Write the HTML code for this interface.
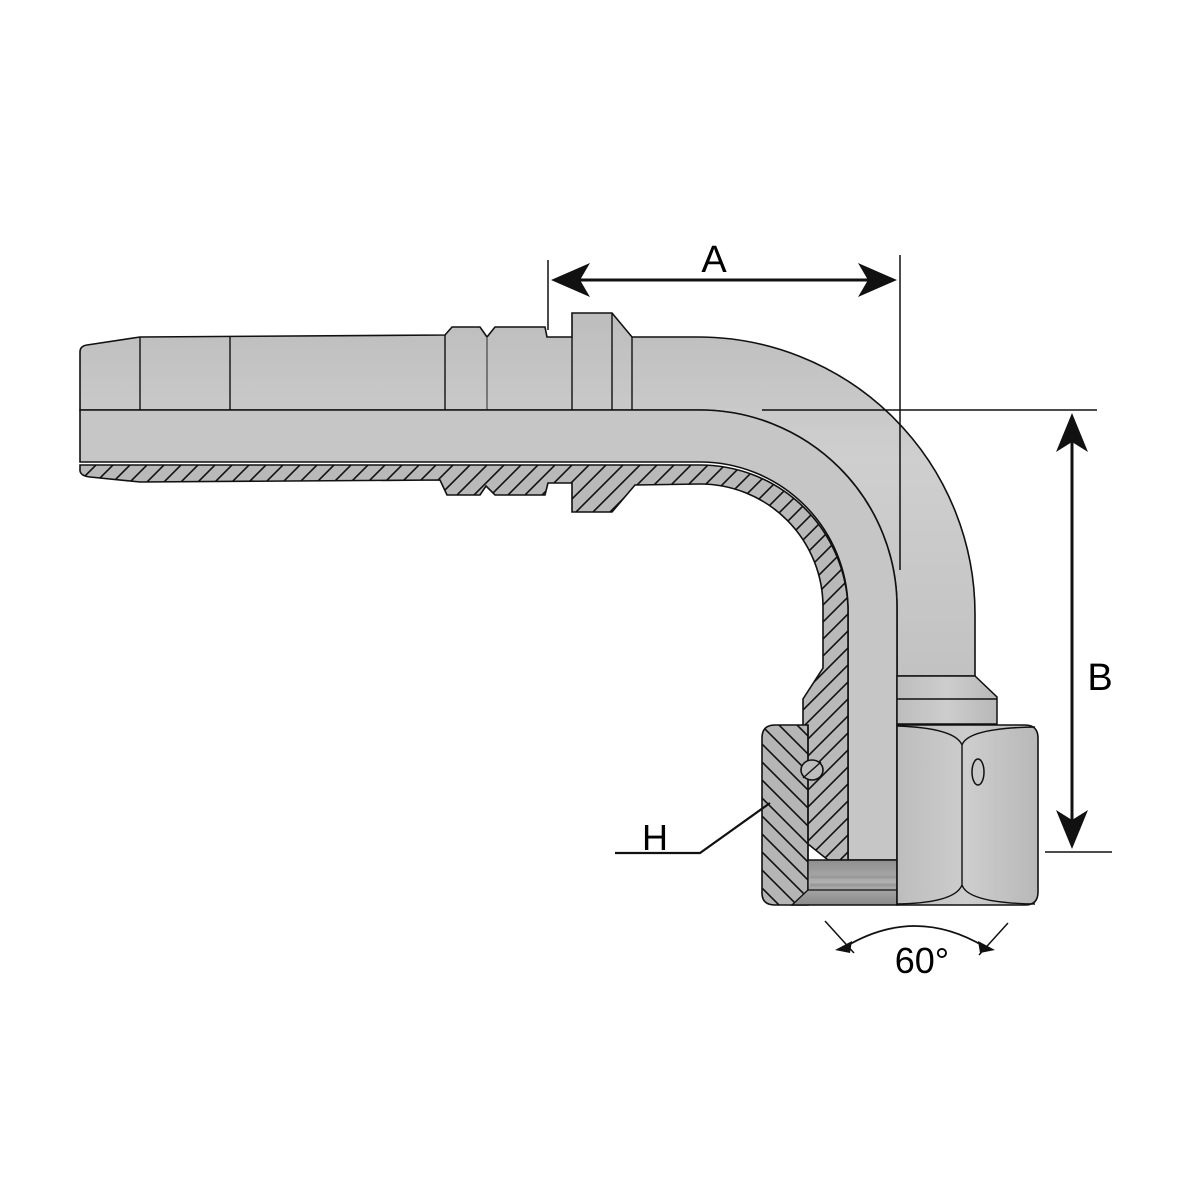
<!DOCTYPE html>
<html><head><meta charset="utf-8"><style>
html,body{margin:0;padding:0;background:#fff;}
svg{display:block}
text{font-family:"Liberation Sans",sans-serif;}
</style></head><body>
<svg width="1200" height="1200" viewBox="0 0 1200 1200" xmlns="http://www.w3.org/2000/svg">
<defs>
<pattern id="h1" patternUnits="userSpaceOnUse" width="17" height="17">
<rect width="17" height="17" fill="#b9b9b9"/>
<path d="M-2,19 L19,-2 M-4,4 L4,-4 M13,21 L21,13" stroke="#111" stroke-width="1.6"/>
</pattern>
<pattern id="h2" patternUnits="userSpaceOnUse" width="18" height="18">
<rect width="18" height="18" fill="#b5b5b5"/>
<path d="M-2,-2 L20,20 M-4,14 L4,22 M14,-4 L22,4" stroke="#111" stroke-width="1.6"/>
</pattern>
<linearGradient id="gv" x1="0" y1="0" x2="0" y2="1">
<stop offset="0" stop-color="#bdbdbd"/><stop offset="0.4" stop-color="#cfcfcf"/><stop offset="1" stop-color="#c2c2c2"/>
</linearGradient>
<linearGradient id="gh" x1="0" y1="0" x2="1" y2="0">
<stop offset="0" stop-color="#bdbdbd"/><stop offset="0.5" stop-color="#cdcdcd"/><stop offset="1" stop-color="#b8b8b8"/>
</linearGradient>
<linearGradient id="thr" x1="0" y1="0" x2="0" y2="1">
<stop offset="0" stop-color="#8e8e8e"/><stop offset="0.5" stop-color="#b0b0b0"/><stop offset="1" stop-color="#8a8a8a"/>
</linearGradient>
</defs>

<!-- exterior upper half -->
<path d="M80,410 L80,352 Q80,346 87,345 L140,337 L445,335 L452,327 L480,327 L487,337 L495,327 L545,327 L547,337 L572,337 L572,313 L612,313 L632,337 L698,337 A277,277 0 0 1 975,614 L975,676 L897,676 L897,607 A197,197 0 0 0 700,410 Z" fill="url(#gv)" stroke="#111" stroke-width="1.6"/>
<g stroke="#111" stroke-width="1.4" fill="none">
<line x1="140" y1="337" x2="140" y2="410"/>
<line x1="230" y1="337" x2="230" y2="410"/>
<line x1="445" y1="335" x2="445" y2="410"/>
<line x1="487" y1="337" x2="487" y2="410" stroke="#555"/>
<line x1="572" y1="337" x2="572" y2="410"/>
<line x1="612" y1="313" x2="612" y2="410"/>
<line x1="632" y1="337" x2="632" y2="410"/>
</g>

<!-- bore -->
<path d="M80,410 L700,410 A197,197 0 0 1 897,607 L897,860 L848,860 L848,607 A148,148 0 0 0 700,462 L80,462 Z" fill="#c6c6c6" stroke="#111" stroke-width="1.6"/>

<!-- wall section -->
<path d="M80,465 L80,471 Q81,476 90,477 L140,482 L440,480 L447,495 L480,495 L486,486 L495,495 L545,495 L548,483 L572,483 L572,512 L612,512 L635,485 L700,484 A123,123 0 0 1 823,607 L823,668 L803,699 L803,840 L828,860 L848,860 L848,607 A148,148 0 0 0 700,465 Z" fill="url(#h1)" stroke="#111" stroke-width="1.6"/>

<!-- collar -->
<path d="M897,676 L975,676 L997,697 L997,724 L897,724 Z" fill="url(#gh)" stroke="#111" stroke-width="1.5"/>
<line x1="897" y1="699" x2="997" y2="699" stroke="#111" stroke-width="1.4"/>

<!-- nut section left -->
<path d="M808,725 L775,725 Q762,725 762,738 L762,893 Q762,905 775,905 L808,905 Z" fill="url(#h2)" stroke="#111" stroke-width="1.6"/>
<line x1="808" y1="725" x2="808" y2="860" stroke="#111" stroke-width="1.4"/>
<!-- thread area -->
<path d="M808,860 L897,860 L897,905 L792,905 L808,890 Z" fill="url(#thr)" stroke="#111" stroke-width="1.4"/>
<line x1="808" y1="890" x2="897" y2="890" stroke="#111" stroke-width="1.2"/>
<g stroke="#999" stroke-width="3">
<line x1="810" y1="868" x2="896" y2="868"/><line x1="810" y1="877" x2="896" y2="877"/><line x1="810" y1="885" x2="896" y2="885"/>
</g>
<!-- o-ring -->
<ellipse cx="812" cy="770" rx="11" ry="10" fill="#bdbdbd" stroke="#111" stroke-width="1.6"/>
<line x1="803" y1="778" x2="821" y2="762" stroke="#111" stroke-width="1.4"/>

<!-- hex view -->
<path d="M897,725 L1025,725 Q1038,725 1038,738 L1038,892 Q1038,905 1025,905 L897,905 Z" fill="url(#gh)" stroke="#111" stroke-width="1.6"/>
<path d="M897,726 Q955,728 962,745 L962,885 Q955,903 897,904 M1035,727 Q968,728 962,745 M962,885 Q968,903 1035,904" fill="none" stroke="#111" stroke-width="1.4"/>
<ellipse cx="978" cy="772" rx="6" ry="13" fill="#c8c8c8" stroke="#111" stroke-width="1.5"/>

<!-- dimensions -->
<g stroke="#111" stroke-width="1.5" fill="none">
<line x1="548" y1="260" x2="548" y2="330"/>
<line x1="900" y1="255" x2="900" y2="570"/>
<line x1="570" y1="280" x2="880" y2="280" stroke-width="3"/>
<line x1="762" y1="410" x2="1097" y2="410"/>
<line x1="1045" y1="852" x2="1112" y2="852"/>
<line x1="1072" y1="430" x2="1072" y2="832" stroke-width="3"/>
<polyline points="615,853 700,853 770,803" stroke-width="2.2"/>
<path d="M845,947 Q915,905 985,947" stroke-width="1.8"/>
<line x1="825" y1="921" x2="854" y2="953" stroke-width="1.5"/>
<line x1="979" y1="955" x2="1008" y2="923" stroke-width="1.5"/>
</g>
<path d="M551,280 L590,263 L580,280 L590,297 Z" fill="#111"/>
<path d="M897,280 L858,263 L868,280 L858,297 Z" fill="#111"/>
<path d="M1072,413 L1056,452 L1072,442 L1088,452 Z" fill="#111"/>
<path d="M1072,849 L1056,810 L1072,820 L1088,810 Z" fill="#111"/>
<path d="M835,950 L852,941 L850,953 Z" fill="#111"/>
<path d="M995,950 L978,941 L980,953 Z" fill="#111"/>

<text x="714" y="272" font-size="38" text-anchor="middle">A</text>
<text x="1100" y="690" font-size="38" text-anchor="middle">B</text>
<text x="655" y="850" font-size="36" text-anchor="middle">H</text>
<text x="922" y="973" font-size="36" text-anchor="middle">60°</text>
</svg>
</body></html>
